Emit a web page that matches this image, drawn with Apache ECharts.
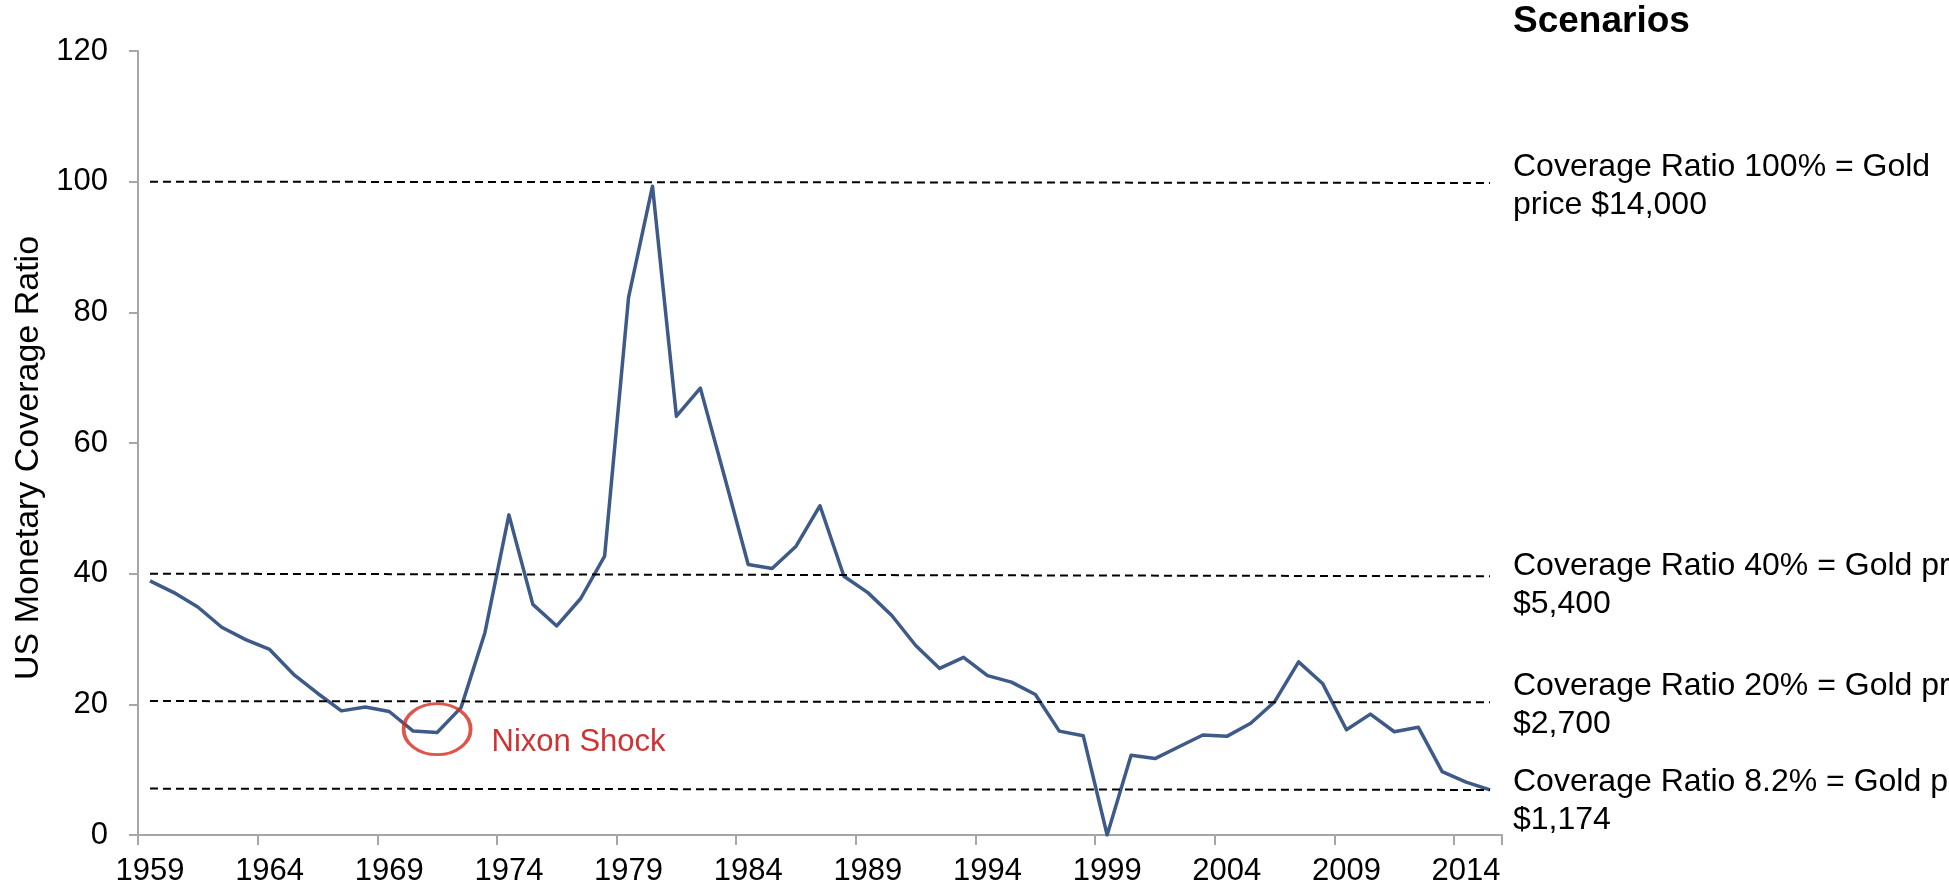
<!DOCTYPE html>
<html>
<head>
<meta charset="utf-8">
<script src="https://cdn.jsdelivr.net/npm/echarts@6/dist/echarts.min.js"></script>
<style>
  html, body { margin: 0; padding: 0; background: #fff; }
  #chart { width: 1949px; height: 893px; }
</style>
</head>
<body>
<div id="chart"></div>
<script>
const years = ['1959','1960','1961','1962','1963','1964','1965','1966','1967','1968',
  '1969','1970','1971','1972','1973','1974','1975','1976','1977','1978',
  '1979','1980','1981','1982','1983','1984','1985','1986','1987','1988',
  '1989','1990','1991','1992','1993','1994','1995','1996','1997','1998',
  '1999','2000','2001','2002','2003','2004','2005','2006','2007','2008',
  '2009','2010','2011','2012','2013','2014','2015']

const coverage = [38.9, 37.1, 34.9, 31.8, 29.9, 28.4, 24.6, 21.7, 19.0, 19.6,
  18.9, 15.9, 15.7, 19.5, 31.0, 49.0, 35.3, 32.0, 36.2, 42.7,
  82.3, 99.3, 64.1, 68.4, 55.0, 41.4, 40.8, 44.2, 50.4, 39.6,
  37.1, 33.6, 29.0, 25.5, 27.2, 24.4, 23.4, 21.5, 15.9, 15.2,
  0, 12.2, 11.7, 13.5, 15.3, 15.1, 17.1, 20.4, 26.5, 23.2,
  16.1, 18.5, 15.8, 16.5, 9.7, 8.1, 6.9]

// scenario dashed lines: value at the left end and at the right end
const scenarioStart = [100, 40, 20.5, 7.1]
const scenarioEnd = [99.8, 39.6, 20.3, 6.9]
const scenarioText = [
  'Coverage Ratio 100% = Gold\nprice $14,000',
  'Coverage Ratio 40% = Gold price\n$5,400',
  'Coverage Ratio 20% = Gold price\n$2,700',
  'Coverage Ratio 8.2% = Gold price\n$1,174'
]
const scenarioTextTop = [148, 547, 667, 763]

const nixonPoint = ['1971', 16.2]
const yTicks = { min: 0, max: 120, interval: 20 }

const FONT = 'Liberation Sans, Arial, sans-serif'
const chart = echarts.init(document.getElementById('chart'))

const option = {
  animation: false,
  backgroundColor: '#fff',
  grid: { left: 138, right: 447, top: 51, bottom: 58 },
  xAxis: {
    type: 'category',
    data: years,
    boundaryGap: true,
    axisLine: { lineStyle: { color: '#A6A6A6', width: 2 } },
    axisTick: { show: true, interval: 4, length: 10, lineStyle: { color: '#A6A6A6', width: 2 } },
    axisLabel: { interval: 4, color: '#000', fontSize: 31, fontFamily: FONT, margin: 21 },
    splitLine: { show: false }
  },
  yAxis: {
    type: 'value',
    min: yTicks.min,
    max: yTicks.max,
    interval: yTicks.interval,
    name: 'US Monetary Coverage Ratio',
    nameLocation: 'middle',
    nameGap: 91,
    nameTextStyle: { color: '#000', fontSize: 34, fontFamily: FONT, padding: [0, 30, 0, 0] },
    axisLine: { show: true, lineStyle: { color: '#A6A6A6', width: 2 } },
    axisTick: { show: true, length: 9, lineStyle: { color: '#A6A6A6', width: 2 } },
    axisLabel: { color: '#000', fontSize: 31, fontFamily: FONT, margin: 30 },
    splitLine: { show: false }
  },
  series: [
    {
      type: 'line',
      data: [],
      z: 1,
      markLine: {
        silent: true,
        symbol: 'none',
        label: { show: false },
        lineStyle: { type: [8, 5], color: '#000', width: 2 },
        data: scenarioStart.map((v, i) => [
          { coord: [years[0], v] },
          { coord: [years[years.length - 1], scenarioEnd[i]] }
        ])
      }
    },
    {
      type: 'line',
      data: coverage,
      z: 3,
      symbol: 'none',
      lineStyle: { color: '#3D5A89', width: 3.5, join: 'round' }
    },
    {
      type: 'scatter',
      z: 4,
      data: [nixonPoint],
      symbol: 'circle',
      symbolSize: [67, 51],
      itemStyle: { color: 'rgba(0,0,0,0)', borderColor: '#D52B1E', borderWidth: 3.3 },
      label: {
        show: true,
        position: 'right',
        distance: 19,
        offset: [0, 13],
        formatter: 'Nixon Shock',
        color: '#C00000',
        fontSize: 31,
        fontFamily: FONT
      }
    }
  ],
  graphic: [
    {
      type: 'text',
      x: 1513,
      y: 22,
      style: { text: 'Scenarios', font: 'bold 37px ' + FONT, fill: '#000', verticalAlign: 'middle' }
    }
  ].concat(scenarioText.map((t, i) => ({
    type: 'text',
    x: 1513,
    y: scenarioTextTop[i],
    style: { text: t, font: '32px ' + FONT, fill: '#000', lineHeight: 38, verticalAlign: 'top' }
  })))
}

chart.setOption(option)
</script>
</body>
</html>
